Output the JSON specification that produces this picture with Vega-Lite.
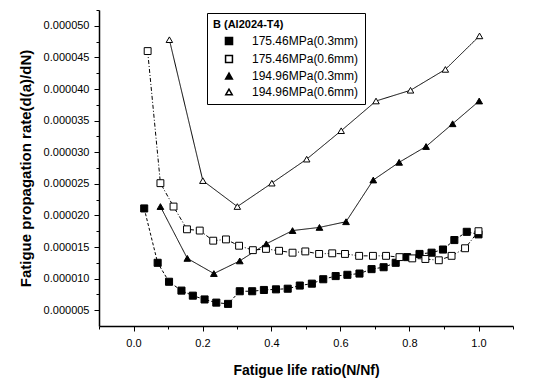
{
  "$schema": "https://vega.github.io/schema/vega-lite/v6.json",
  "width": 414,
  "height": 316,
  "autosize": {"type": "none"},
  "padding": {"left": 99, "top": 10, "right": 21, "bottom": 59},
  "background": "white",
  "config": {
    "view": {"stroke": null},
    "font": "Liberation Sans",
    "axis": {
      "domainColor": "black",
      "domainWidth": 1.5,
      "tickColor": "black",
      "tickWidth": 1,
      "labelColor": "black",
      "labelFont": "Liberation Sans",
      "labelFontSize": 11,
      "titleColor": "black",
      "titleFont": "Liberation Sans",
      "titleFontWeight": "bold",
      "titleFontSize": 14,
      "grid": false
    },
    "legend": {
      "strokeColor": "black",
      "fillColor": "white",
      "padding": 6,
      "titleFont": "Liberation Sans",
      "titleFontSize": 11,
      "titleFontWeight": "bold",
      "titleColor": "black",
      "labelFont": "Liberation Sans",
      "labelFontSize": 12,
      "labelColor": "black",
      "symbolOffset": 10,
      "rowPadding": 4,
      "labelOffset": 17
    }
  },
  "data": {
    "values": [
      {"s": "175.46MPa(0.3mm)", "x": 0.031, "y": 0.0000211},
      {"s": "175.46MPa(0.3mm)", "x": 0.070, "y": 0.0000125},
      {"s": "175.46MPa(0.3mm)", "x": 0.103, "y": 0.0000095},
      {"s": "175.46MPa(0.3mm)", "x": 0.139, "y": 0.0000081},
      {"s": "175.46MPa(0.3mm)", "x": 0.172, "y": 0.0000073},
      {"s": "175.46MPa(0.3mm)", "x": 0.206, "y": 0.0000067},
      {"s": "175.46MPa(0.3mm)", "x": 0.240, "y": 0.0000062},
      {"s": "175.46MPa(0.3mm)", "x": 0.274, "y": 0.0000060},
      {"s": "175.46MPa(0.3mm)", "x": 0.308, "y": 0.0000080},
      {"s": "175.46MPa(0.3mm)", "x": 0.344, "y": 0.0000080},
      {"s": "175.46MPa(0.3mm)", "x": 0.378, "y": 0.0000082},
      {"s": "175.46MPa(0.3mm)", "x": 0.413, "y": 0.0000083},
      {"s": "175.46MPa(0.3mm)", "x": 0.447, "y": 0.0000084},
      {"s": "175.46MPa(0.3mm)", "x": 0.482, "y": 0.0000089},
      {"s": "175.46MPa(0.3mm)", "x": 0.517, "y": 0.0000092},
      {"s": "175.46MPa(0.3mm)", "x": 0.550, "y": 0.0000099},
      {"s": "175.46MPa(0.3mm)", "x": 0.586, "y": 0.0000104},
      {"s": "175.46MPa(0.3mm)", "x": 0.620, "y": 0.0000106},
      {"s": "175.46MPa(0.3mm)", "x": 0.655, "y": 0.0000108},
      {"s": "175.46MPa(0.3mm)", "x": 0.690, "y": 0.0000115},
      {"s": "175.46MPa(0.3mm)", "x": 0.725, "y": 0.0000118},
      {"s": "175.46MPa(0.3mm)", "x": 0.760, "y": 0.0000125},
      {"s": "175.46MPa(0.3mm)", "x": 0.793, "y": 0.0000134},
      {"s": "175.46MPa(0.3mm)", "x": 0.829, "y": 0.0000139},
      {"s": "175.46MPa(0.3mm)", "x": 0.864, "y": 0.0000141},
      {"s": "175.46MPa(0.3mm)", "x": 0.897, "y": 0.0000146},
      {"s": "175.46MPa(0.3mm)", "x": 0.930, "y": 0.0000161},
      {"s": "175.46MPa(0.3mm)", "x": 0.966, "y": 0.0000174},
      {"s": "175.46MPa(0.3mm)", "x": 1.000, "y": 0.0000170},
      {"s": "175.46MPa(0.6mm)", "x": 0.041, "y": 0.0000460},
      {"s": "175.46MPa(0.6mm)", "x": 0.078, "y": 0.0000251},
      {"s": "175.46MPa(0.6mm)", "x": 0.116, "y": 0.0000214},
      {"s": "175.46MPa(0.6mm)", "x": 0.155, "y": 0.0000178},
      {"s": "175.46MPa(0.6mm)", "x": 0.192, "y": 0.0000176},
      {"s": "175.46MPa(0.6mm)", "x": 0.231, "y": 0.0000160},
      {"s": "175.46MPa(0.6mm)", "x": 0.268, "y": 0.0000162},
      {"s": "175.46MPa(0.6mm)", "x": 0.306, "y": 0.0000152},
      {"s": "175.46MPa(0.6mm)", "x": 0.346, "y": 0.0000145},
      {"s": "175.46MPa(0.6mm)", "x": 0.384, "y": 0.0000147},
      {"s": "175.46MPa(0.6mm)", "x": 0.422, "y": 0.0000144},
      {"s": "175.46MPa(0.6mm)", "x": 0.461, "y": 0.0000141},
      {"s": "175.46MPa(0.6mm)", "x": 0.498, "y": 0.0000143},
      {"s": "175.46MPa(0.6mm)", "x": 0.538, "y": 0.0000139},
      {"s": "175.46MPa(0.6mm)", "x": 0.576, "y": 0.0000140},
      {"s": "175.46MPa(0.6mm)", "x": 0.613, "y": 0.0000139},
      {"s": "175.46MPa(0.6mm)", "x": 0.654, "y": 0.0000136},
      {"s": "175.46MPa(0.6mm)", "x": 0.694, "y": 0.0000136},
      {"s": "175.46MPa(0.6mm)", "x": 0.732, "y": 0.0000136},
      {"s": "175.46MPa(0.6mm)", "x": 0.771, "y": 0.0000134},
      {"s": "175.46MPa(0.6mm)", "x": 0.808, "y": 0.0000132},
      {"s": "175.46MPa(0.6mm)", "x": 0.846, "y": 0.0000131},
      {"s": "175.46MPa(0.6mm)", "x": 0.885, "y": 0.0000129},
      {"s": "175.46MPa(0.6mm)", "x": 0.922, "y": 0.0000136},
      {"s": "175.46MPa(0.6mm)", "x": 0.961, "y": 0.0000148},
      {"s": "175.46MPa(0.6mm)", "x": 1.000, "y": 0.0000175},
      {"s": "194.96MPa(0.3mm)", "x": 0.078, "y": 0.0000214},
      {"s": "194.96MPa(0.3mm)", "x": 0.156, "y": 0.0000132},
      {"s": "194.96MPa(0.3mm)", "x": 0.233, "y": 0.0000108},
      {"s": "194.96MPa(0.3mm)", "x": 0.308, "y": 0.0000128},
      {"s": "194.96MPa(0.3mm)", "x": 0.385, "y": 0.0000155},
      {"s": "194.96MPa(0.3mm)", "x": 0.461, "y": 0.0000176},
      {"s": "194.96MPa(0.3mm)", "x": 0.539, "y": 0.0000181},
      {"s": "194.96MPa(0.3mm)", "x": 0.616, "y": 0.0000190},
      {"s": "194.96MPa(0.3mm)", "x": 0.695, "y": 0.0000256},
      {"s": "194.96MPa(0.3mm)", "x": 0.770, "y": 0.0000284},
      {"s": "194.96MPa(0.3mm)", "x": 0.848, "y": 0.0000309},
      {"s": "194.96MPa(0.3mm)", "x": 0.925, "y": 0.0000345},
      {"s": "194.96MPa(0.3mm)", "x": 1.002, "y": 0.0000381},
      {"s": "194.96MPa(0.6mm)", "x": 0.104, "y": 0.0000478},
      {"s": "194.96MPa(0.6mm)", "x": 0.201, "y": 0.0000255},
      {"s": "194.96MPa(0.6mm)", "x": 0.301, "y": 0.0000214},
      {"s": "194.96MPa(0.6mm)", "x": 0.401, "y": 0.0000251},
      {"s": "194.96MPa(0.6mm)", "x": 0.502, "y": 0.0000289},
      {"s": "194.96MPa(0.6mm)", "x": 0.602, "y": 0.0000334},
      {"s": "194.96MPa(0.6mm)", "x": 0.703, "y": 0.0000381},
      {"s": "194.96MPa(0.6mm)", "x": 0.803, "y": 0.0000398},
      {"s": "194.96MPa(0.6mm)", "x": 0.904, "y": 0.0000431},
      {"s": "194.96MPa(0.6mm)", "x": 1.003, "y": 0.0000484}
    ]
  },
  "encoding": {
    "x": {
      "field": "x",
      "type": "quantitative",
      "scale": {"domain": [-0.1, 1.1], "nice": false, "zero": false},
      "axis": {
        "title": "Fatigue life ratio(N/Nf)",
        "values": [-0.1, 0, 0.1, 0.2, 0.3, 0.4, 0.5, 0.6, 0.7, 0.8, 0.9, 1.0, 1.1],
        "labelExpr": "(round(datum.value*10) % 2 == 0 && datum.value > -0.05 && datum.value < 1.05) ? format(datum.value, '.1f') : ''",
        "tickSize": {"condition": {"test": "round(datum.value*10) % 2 != 0", "value": 3}, "value": 5},
        "labelPadding": 6,
        "titlePadding": 15
      }
    },
    "y": {
      "field": "y",
      "type": "quantitative",
      "scale": {"domain": [0.0000025, 0.0000525], "nice": false, "zero": false},
      "axis": {
        "title": "Fatigue propagation rate(d(a)/dN)",
        "titleFontSize": 15,
        "values": [0.000005, 0.0000075, 0.00001, 0.0000125, 0.000015, 0.0000175, 0.00002, 0.0000225, 0.000025, 0.0000275, 0.00003, 0.0000325, 0.000035, 0.0000375, 0.00004, 0.0000425, 0.000045, 0.0000475, 0.00005, 0.0000525],
        "labelExpr": "(abs(datum.value*2e5 - round(datum.value*2e5)) < 0.01 && datum.value < 0.000051) ? format(datum.value, '.6f') : ''",
        "tickSize": {"condition": {"test": "abs(datum.value*2e5 - round(datum.value*2e5)) > 0.01", "value": 3}, "value": 5},
        "labelPadding": 5,
        "titlePadding": 10
      }
    }
  },
  "resolve": {"legend": {"strokeDash": "independent"}},
  "layer": [
    {
      "mark": {"type": "line", "color": "black", "strokeWidth": 1},
      "encoding": {
        "detail": {"field": "s"},
        "strokeDash": {
          "field": "s",
          "scale": {
            "domain": ["175.46MPa(0.3mm)", "175.46MPa(0.6mm)", "194.96MPa(0.3mm)", "194.96MPa(0.6mm)"],
            "range": [[3, 2], [4, 2, 1, 2], [1, 0], [1, 0]]
          },
          "legend": null
        }
      }
    },
    {
      "mark": {"type": "point", "filled": true, "stroke": "black", "strokeWidth": 1, "opacity": 1},
      "encoding": {
        "shape": {
          "field": "s",
          "title": "B (Al2024-T4)",
          "scale": {
            "domain": ["175.46MPa(0.3mm)", "175.46MPa(0.6mm)", "194.96MPa(0.3mm)", "194.96MPa(0.6mm)"],
            "range": ["square", "square", "triangle-up", "triangle-up"]
          },
          "legend": {"orient": "none", "legendX": 108, "legendY": 3}
        },
        "fill": {
          "field": "s",
          "title": "B (Al2024-T4)",
          "scale": {
            "domain": ["175.46MPa(0.3mm)", "175.46MPa(0.6mm)", "194.96MPa(0.3mm)", "194.96MPa(0.6mm)"],
            "range": ["black", "white", "black", "white"]
          },
          "legend": {"orient": "none", "legendX": 108, "legendY": 3}
        },
        "size": {
          "field": "s",
          "title": "B (Al2024-T4)",
          "scale": {
            "domain": ["175.46MPa(0.3mm)", "175.46MPa(0.6mm)", "194.96MPa(0.3mm)", "194.96MPa(0.6mm)"],
            "range": [50, 42, 65, 65]
          },
          "legend": {"orient": "none", "legendX": 108, "legendY": 3}
        }
      }
    }
  ]
}
